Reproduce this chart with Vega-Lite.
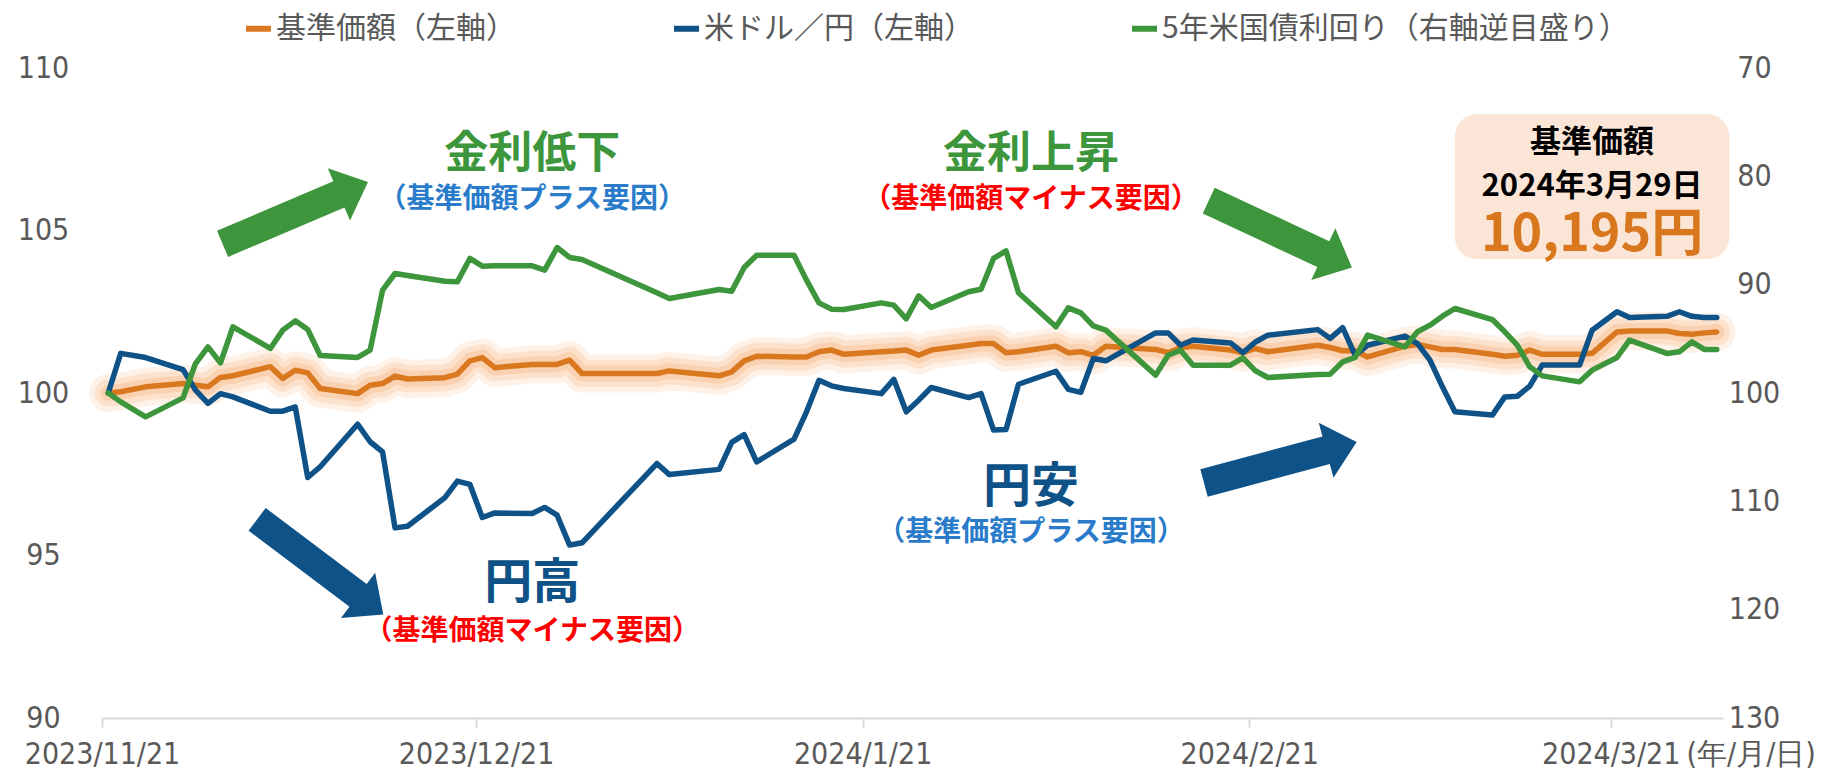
{
  "$schema": "https://vega.github.io/schema/vega-lite/v6.json",
  "width": 1621,
  "height": 650,
  "autosize": {"type": "none"},
  "padding": {"left": 102, "top": 68, "right": 121, "bottom": 55},
  "background": "white",
  "config": {
    "view": {"stroke": null},
    "axisLeft": {"labelAlign": "center", "labelPadding": 59, "domain": false, "ticks": false, "grid": false, "labelFont": "DejaVu Sans Condensed", "labelFontSize": 30, "labelColor": "#595959"},
    "axisRight": {"labelAlign": "center", "labelPadding": 31, "domain": false, "ticks": false, "grid": false, "labelFont": "DejaVu Sans Condensed", "labelFontSize": 30, "labelColor": "#595959"},
    "axisBottom": {"domainColor": "#D9D9D9", "domainWidth": 2, "tickColor": "#D9D9D9", "tickWidth": 2, "tickSize": 9, "grid": false, "labelFont": "DejaVu Sans Condensed", "labelFontSize": 30, "labelColor": "#595959", "labelBaseline": "middle", "labelPadding": 27, "labelFlush": false, "labelOverlap": false}
  },
  "datasets": {
    "series": [
      {"date": "2023-11-21", "nav": 100, "usdjpy": 100, "ust5y": 100},
      {"date": "2023-11-22", "nav": 100.04, "usdjpy": 101.22, "ust5y": 100.82},
      {"date": "2023-11-24", "nav": 100.19, "usdjpy": 101.09, "ust5y": 102.2},
      {"date": "2023-11-27", "nav": 100.29, "usdjpy": 100.72, "ust5y": 100.45},
      {"date": "2023-11-28", "nav": 100.24, "usdjpy": 100.09, "ust5y": 97.28},
      {"date": "2023-11-29", "nav": 100.19, "usdjpy": 99.68, "ust5y": 95.74},
      {"date": "2023-11-30", "nav": 100.48, "usdjpy": 99.98, "ust5y": 97.22},
      {"date": "2023-12-01", "nav": 100.53, "usdjpy": 99.88, "ust5y": 93.89},
      {"date": "2023-12-04", "nav": 100.81, "usdjpy": 99.44, "ust5y": 95.89},
      {"date": "2023-12-05", "nav": 100.45, "usdjpy": 99.44, "ust5y": 94.2},
      {"date": "2023-12-06", "nav": 100.7, "usdjpy": 99.57, "ust5y": 93.34},
      {"date": "2023-12-07", "nav": 100.62, "usdjpy": 97.4, "ust5y": 94.14},
      {"date": "2023-12-08", "nav": 100.14, "usdjpy": 97.73, "ust5y": 96.54},
      {"date": "2023-12-11", "nav": 99.98, "usdjpy": 99.04, "ust5y": 96.72},
      {"date": "2023-12-12", "nav": 100.24, "usdjpy": 98.5, "ust5y": 96.05},
      {"date": "2023-12-13", "nav": 100.29, "usdjpy": 98.19, "ust5y": 90.51},
      {"date": "2023-12-14", "nav": 100.52, "usdjpy": 95.85, "ust5y": 88.97},
      {"date": "2023-12-15", "nav": 100.43, "usdjpy": 95.9, "ust5y": 89.15},
      {"date": "2023-12-18", "nav": 100.47, "usdjpy": 96.78, "ust5y": 89.68},
      {"date": "2023-12-19", "nav": 100.58, "usdjpy": 97.29, "ust5y": 89.74},
      {"date": "2023-12-20", "nav": 100.99, "usdjpy": 97.19, "ust5y": 87.58},
      {"date": "2023-12-21", "nav": 101.09, "usdjpy": 96.17, "ust5y": 88.29},
      {"date": "2023-12-22", "nav": 100.78, "usdjpy": 96.31, "ust5y": 88.26},
      {"date": "2023-12-25", "nav": 100.88, "usdjpy": 96.29, "ust5y": 88.26},
      {"date": "2023-12-26", "nav": 100.88, "usdjpy": 96.48, "ust5y": 88.66},
      {"date": "2023-12-27", "nav": 100.88, "usdjpy": 96.24, "ust5y": 86.57},
      {"date": "2023-12-28", "nav": 101.01, "usdjpy": 95.32, "ust5y": 87.49},
      {"date": "2023-12-29", "nav": 100.6, "usdjpy": 95.39, "ust5y": 87.68},
      {"date": "2024-01-04", "nav": 100.6, "usdjpy": 97.83, "ust5y": 90.75},
      {"date": "2024-01-05", "nav": 100.68, "usdjpy": 97.49, "ust5y": 91.28},
      {"date": "2024-01-09", "nav": 100.53, "usdjpy": 97.65, "ust5y": 90.45},
      {"date": "2024-01-10", "nav": 100.65, "usdjpy": 98.48, "ust5y": 90.6},
      {"date": "2024-01-11", "nav": 100.99, "usdjpy": 98.72, "ust5y": 88.42},
      {"date": "2024-01-12", "nav": 101.13, "usdjpy": 97.88, "ust5y": 87.28},
      {"date": "2024-01-15", "nav": 101.11, "usdjpy": 98.58, "ust5y": 87.28},
      {"date": "2024-01-16", "nav": 101.11, "usdjpy": 99.42, "ust5y": 89.58},
      {"date": "2024-01-17", "nav": 101.27, "usdjpy": 100.39, "ust5y": 91.68},
      {"date": "2024-01-18", "nav": 101.32, "usdjpy": 100.22, "ust5y": 92.26},
      {"date": "2024-01-19", "nav": 101.19, "usdjpy": 100.14, "ust5y": 92.29},
      {"date": "2024-01-22", "nav": 101.27, "usdjpy": 99.98, "ust5y": 91.68},
      {"date": "2024-01-23", "nav": 101.29, "usdjpy": 100.42, "ust5y": 91.89},
      {"date": "2024-01-24", "nav": 101.32, "usdjpy": 99.42, "ust5y": 93.15},
      {"date": "2024-01-25", "nav": 101.16, "usdjpy": 99.78, "ust5y": 91.03},
      {"date": "2024-01-26", "nav": 101.32, "usdjpy": 100.17, "ust5y": 92.11},
      {"date": "2024-01-29", "nav": 101.47, "usdjpy": 99.86, "ust5y": 90.66},
      {"date": "2024-01-30", "nav": 101.52, "usdjpy": 99.98, "ust5y": 90.42},
      {"date": "2024-01-31", "nav": 101.52, "usdjpy": 98.86, "ust5y": 87.58},
      {"date": "2024-02-01", "nav": 101.24, "usdjpy": 98.88, "ust5y": 86.88},
      {"date": "2024-02-02", "nav": 101.27, "usdjpy": 100.27, "ust5y": 90.75},
      {"date": "2024-02-05", "nav": 101.44, "usdjpy": 100.67, "ust5y": 93.89},
      {"date": "2024-02-06", "nav": 101.24, "usdjpy": 100.11, "ust5y": 92.14},
      {"date": "2024-02-07", "nav": 101.27, "usdjpy": 100.02, "ust5y": 92.6},
      {"date": "2024-02-08", "nav": 101.16, "usdjpy": 101.06, "ust5y": 93.8},
      {"date": "2024-02-09", "nav": 101.44, "usdjpy": 100.99, "ust5y": 94.2},
      {"date": "2024-02-13", "nav": 101.34, "usdjpy": 101.85, "ust5y": 98.35},
      {"date": "2024-02-14", "nav": 101.24, "usdjpy": 101.85, "ust5y": 96.51},
      {"date": "2024-02-15", "nav": 101.4, "usdjpy": 101.47, "ust5y": 96.05},
      {"date": "2024-02-16", "nav": 101.44, "usdjpy": 101.63, "ust5y": 97.43},
      {"date": "2024-02-19", "nav": 101.32, "usdjpy": 101.54, "ust5y": 97.43},
      {"date": "2024-02-20", "nav": 101.24, "usdjpy": 101.24, "ust5y": 96.75},
      {"date": "2024-02-21", "nav": 101.37, "usdjpy": 101.57, "ust5y": 97.95},
      {"date": "2024-02-22", "nav": 101.27, "usdjpy": 101.78, "ust5y": 98.57},
      {"date": "2024-02-26", "nav": 101.47, "usdjpy": 101.95, "ust5y": 98.29},
      {"date": "2024-02-27", "nav": 101.4, "usdjpy": 101.68, "ust5y": 98.26},
      {"date": "2024-02-28", "nav": 101.3, "usdjpy": 102.01, "ust5y": 97.12},
      {"date": "2024-02-29", "nav": 101.3, "usdjpy": 101.16, "ust5y": 96.72},
      {"date": "2024-03-01", "nav": 101.11, "usdjpy": 101.47, "ust5y": 94.66},
      {"date": "2024-03-04", "nav": 101.44, "usdjpy": 101.75, "ust5y": 95.74},
      {"date": "2024-03-05", "nav": 101.49, "usdjpy": 101.52, "ust5y": 94.35},
      {"date": "2024-03-06", "nav": 101.42, "usdjpy": 101.01, "ust5y": 93.74},
      {"date": "2024-03-07", "nav": 101.34, "usdjpy": 100.19, "ust5y": 92.91},
      {"date": "2024-03-08", "nav": 101.34, "usdjpy": 99.42, "ust5y": 92.2},
      {"date": "2024-03-11", "nav": 101.19, "usdjpy": 99.32, "ust5y": 93.22},
      {"date": "2024-03-12", "nav": 101.13, "usdjpy": 99.88, "ust5y": 94.35},
      {"date": "2024-03-13", "nav": 101.16, "usdjpy": 99.9, "ust5y": 95.58},
      {"date": "2024-03-14", "nav": 101.32, "usdjpy": 100.21, "ust5y": 97.58},
      {"date": "2024-03-15", "nav": 101.19, "usdjpy": 100.86, "ust5y": 98.42},
      {"date": "2024-03-18", "nav": 101.19, "usdjpy": 100.86, "ust5y": 98.97},
      {"date": "2024-03-19", "nav": 101.22, "usdjpy": 101.93, "ust5y": 97.89},
      {"date": "2024-03-21", "nav": 101.88, "usdjpy": 102.5, "ust5y": 96.72},
      {"date": "2024-03-22", "nav": 101.91, "usdjpy": 102.32, "ust5y": 95.12},
      {"date": "2024-03-25", "nav": 101.91, "usdjpy": 102.36, "ust5y": 96.35},
      {"date": "2024-03-26", "nav": 101.83, "usdjpy": 102.5, "ust5y": 96.2},
      {"date": "2024-03-27", "nav": 101.81, "usdjpy": 102.36, "ust5y": 95.28},
      {"date": "2024-03-28", "nav": 101.85, "usdjpy": 102.32, "ust5y": 95.98},
      {"date": "2024-03-29", "nav": 101.88, "usdjpy": 102.32, "ust5y": 95.98}
    ]
  },
  "encoding": {
    "x": {
      "field": "date",
      "type": "temporal",
      "scale": {
        "type": "utc",
        "domain": [
          {"year": 2023, "month": 11, "date": 20, "hours": 12, "utc": true},
          {"year": 2024, "month": 3, "date": 29, "hours": 12, "utc": true}
        ],
        "nice": false
      },
      "axis": {
        "values": [
          {"year": 2023, "month": 11, "date": 20, "hours": 12, "utc": true},
          {"year": 2023, "month": 12, "date": 20, "hours": 12, "utc": true},
          {"year": 2024, "month": 1, "date": 20, "hours": 12, "utc": true},
          {"year": 2024, "month": 2, "date": 20, "hours": 12, "utc": true},
          {"year": 2024, "month": 3, "date": 20, "hours": 12, "utc": true}
        ],
        "labelExpr": "utcFormat(datum.value + 43200000, '%Y/%-m/%-d')",
        "title": "(年/月/日)",
        "titleX": 1584,
        "titleY": 36,
        "titleAlign": "left",
        "titleBaseline": "middle",
        "titleFont": "DejaVu Sans Condensed",
        "titleFontSize": 30,
        "titleFontWeight": "normal",
        "titleColor": "#595959"
      }
    }
  },
  "layer": [
    {
      "encoding": {
        "y": {"field": "value", "type": "quantitative", "scale": {"domain": [90, 110], "nice": false, "zero": false}, "axis": {"title": null, "values": [90, 95, 100, 105, 110], "orient": "left"}}
      },
      "layer": [
        {
          "data": {"name": "series"},
          "mark": {"type": "line", "color": "#F7B27A", "opacity": 0.18, "strokeWidth": 38, "strokeCap": "round", "strokeJoin": "round"},
          "encoding": {"y": {"field": "nav", "type": "quantitative", "scale": {"domain": [90, 110], "nice": false, "zero": false}, "axis": {"title": null, "values": [90, 95, 100, 105, 110], "orient": "left"}}}
        },
        {
          "data": {"name": "series"},
          "mark": {"type": "line", "color": "#F7B27A", "opacity": 0.24, "strokeWidth": 27, "strokeCap": "round", "strokeJoin": "round"},
          "encoding": {"y": {"field": "nav", "type": "quantitative", "scale": {"domain": [90, 110], "nice": false, "zero": false}, "axis": {"title": null, "values": [90, 95, 100, 105, 110], "orient": "left"}}}
        },
        {
          "data": {"name": "series"},
          "mark": {"type": "line", "color": "#F7B27A", "opacity": 0.32, "strokeWidth": 16, "strokeCap": "round", "strokeJoin": "round"},
          "encoding": {"y": {"field": "nav", "type": "quantitative", "scale": {"domain": [90, 110], "nice": false, "zero": false}, "axis": {"title": null, "values": [90, 95, 100, 105, 110], "orient": "left"}}}
        },
        {
          "mark": {"type": "rule", "color": "#A6A6A6", "strokeWidth": 2},
          "encoding": {"y": {"datum": 100, "type": "quantitative", "scale": {"domain": [90, 110], "nice": false, "zero": false}, "axis": {"title": null, "values": [90, 95, 100, 105, 110], "orient": "left"}}, "x": {"value": 0}, "x2": {"value": 1621}}
        },
        {
          "data": {"name": "series"},
          "mark": {"type": "line", "strokeWidth": 5.5, "strokeJoin": "round", "strokeCap": "round"},
          "encoding": {
            "y": {"field": "nav", "type": "quantitative", "scale": {"domain": [90, 110], "nice": false, "zero": false}, "axis": {"title": null, "values": [90, 95, 100, 105, 110], "orient": "left"}},
            "color": {
              "datum": "基準価額（左軸）",
              "scale": {"domain": ["基準価額（左軸）", "米ドル／円（左軸）", "5年米国債利回り（右軸逆目盛り）"], "range": ["#DA7820", "#0E5288", "#3D963B"]},
              "legend": {"orient": "none", "legendX": 141, "legendY": -55, "direction": "horizontal", "title": null, "symbolType": "stroke", "symbolSize": 625, "symbolStrokeWidth": 6, "labelFont": "Noto Sans CJK JP", "labelFontSize": 30, "labelColor": "#595959", "labelLimit": 700, "columnPadding": 146, "labelOffset": 2}
            }
          }
        },
        {
          "data": {"name": "series"},
          "mark": {"type": "line", "strokeWidth": 5.5, "strokeJoin": "round", "strokeCap": "round"},
          "encoding": {
            "y": {"field": "usdjpy", "type": "quantitative", "scale": {"domain": [90, 110], "nice": false, "zero": false}, "axis": {"title": null, "values": [90, 95, 100, 105, 110], "orient": "left"}},
            "color": {"datum": "米ドル／円（左軸）"}
          }
        },
        {
          "data": {"values": [{"date": "2024-03-08", "date2": "2024-03-30", "value": 108.58, "value2": 104.12}]},
          "mark": {"type": "rect", "color": "#FBE5D6", "cornerRadius": 22},
          "encoding": {"x2": {"field": "date2"}, "y2": {"field": "value2"}}
        },
        {
          "data": {"values": [{"date": "2024-03-19", "value": 107.7, "label": "基準価額"}, {"date": "2024-03-19", "value": 106.33, "label": "2024年3月29日"}]},
          "mark": {"type": "text", "font": "Noto Sans CJK JP", "fontWeight": "bold", "fontSize": 31, "color": "#000000", "align": "center", "baseline": "middle"},
          "encoding": {"text": {"field": "label"}}
        },
        {
          "data": {"values": [{"date": "2024-03-19", "value": 104.86, "label": "10,195円"}]},
          "mark": {"type": "text", "font": "Noto Sans CJK JP", "fontWeight": "bold", "fontSize": 52, "color": "#D9771F", "align": "center", "baseline": "middle"},
          "encoding": {"text": {"field": "label"}}
        },
        {
          "data": {"values": [{"date": "2023-12-25", "value": 107.32, "label": "金利低下"}, {"date": "2024-02-03", "value": 107.32, "label": "金利上昇"}]},
          "mark": {"type": "text", "font": "Noto Sans CJK JP", "fontWeight": "bold", "fontSize": 44, "color": "#3D963B", "align": "center", "baseline": "middle"},
          "encoding": {"text": {"field": "label"}}
        },
        {
          "data": {"values": [{"date": "2023-12-25", "value": 94.12, "label": "円高"}, {"date": "2024-02-03", "value": 97.08, "label": "円安"}]},
          "mark": {"type": "text", "font": "Noto Sans CJK JP", "fontWeight": "bold", "fontSize": 48, "color": "#0E5288", "align": "center", "baseline": "middle"},
          "encoding": {"text": {"field": "label"}}
        },
        {
          "data": {"values": [{"date": "2023-12-25", "value": 105.94, "label": "（基準価額プラス要因）"}, {"date": "2024-02-03", "value": 95.69, "label": "（基準価額プラス要因）"}]},
          "mark": {"type": "text", "font": "Noto Sans CJK JP", "fontWeight": "bold", "fontSize": 28, "color": "#2A7CCB", "align": "center", "baseline": "middle"},
          "encoding": {"text": {"field": "label"}}
        },
        {
          "data": {"values": [{"date": "2024-02-03", "value": 105.94, "label": "（基準価額マイナス要因）"}, {"date": "2023-12-25", "value": 92.65, "label": "（基準価額マイナス要因）"}]},
          "mark": {"type": "text", "font": "Noto Sans CJK JP", "fontWeight": "bold", "fontSize": 28, "color": "#FF0000", "align": "center", "baseline": "middle"},
          "encoding": {"text": {"field": "label"}}
        },
        {
          "data": {"values": [{"date": "2023-12-06", "value": 105.54}]},
          "mark": {"type": "point", "shape": "M-1,-0.18L0.6,-0.18L0.6,-0.36L1,0L0.6,0.36L0.6,0.18L-1,0.18Z", "filled": true, "color": "#3D963B", "opacity": 1, "strokeWidth": 0, "size": 24964, "angle": 337}
        },
        {
          "data": {"values": [{"date": "2024-02-23", "value": 104.89}]},
          "mark": {"type": "point", "shape": "M-1,-0.18L0.6,-0.18L0.6,-0.36L1,0L0.6,0.36L0.6,0.18L-1,0.18Z", "filled": true, "color": "#3D963B", "opacity": 1, "strokeWidth": 0, "size": 24964, "angle": 25}
        },
        {
          "data": {"values": [{"date": "2023-12-08", "value": 94.65}]},
          "mark": {"type": "point", "shape": "M-1,-0.18L0.6,-0.18L0.6,-0.36L1,0L0.6,0.36L0.6,0.18L-1,0.18Z", "filled": true, "color": "#0E5288", "opacity": 1, "strokeWidth": 0, "size": 24964, "angle": 37}
        },
        {
          "data": {"values": [{"date": "2024-02-23", "value": 97.86}]},
          "mark": {"type": "point", "shape": "M-1,-0.18L0.6,-0.18L0.6,-0.36L1,0L0.6,0.36L0.6,0.18L-1,0.18Z", "filled": true, "color": "#0E5288", "opacity": 1, "strokeWidth": 0, "size": 24964, "angle": 345}
        }
      ]
    },
    {
      "data": {"name": "series"},
      "mark": {"type": "line", "strokeWidth": 5.5, "strokeJoin": "round", "strokeCap": "round"},
      "encoding": {
        "y": {"field": "ust5y", "type": "quantitative", "scale": {"domain": [70, 130], "reverse": true, "nice": false, "zero": false}, "axis": {"title": null, "orient": "right", "values": [70, 80, 90, 100, 110, 120, 130]}},
        "color": {"datum": "5年米国債利回り（右軸逆目盛り）"}
      }
    }
  ],
  "resolve": {"scale": {"y": "independent"}}
}
